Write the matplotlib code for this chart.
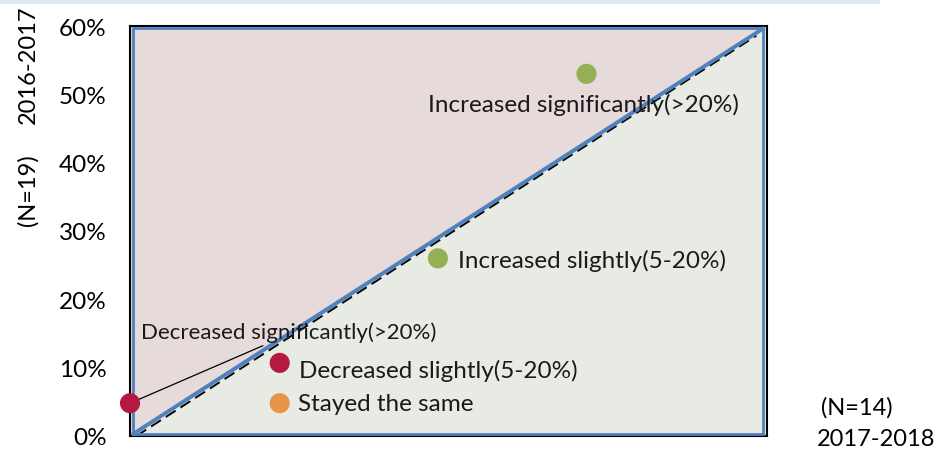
import numpy as np
import matplotlib
matplotlib.use("Agg")
import matplotlib.pyplot as plt
from matplotlib.patches import Rectangle, Polygon

plt.rcParams['font.family'] = ['Lato', 'DejaVu Sans']

# data (x = 2017-2018 share, y = 2016-2017 share, in %)
labels = ["Decreased significantly(>20%)", "Decreased slightly(5-20%)", "Stayed the same",
          "Increased slightly(5-20%)", "Increased significantly(>20%)"]
x_vals = [0.0, 14.1, 14.1, 29.0, 43.0]
y_vals = [4.8, 10.7, 4.8, 26.0, 53.0]
colors = ["#b5193f", "#b5193f", "#e8954a", "#93b154", "#93b154"]
yticks = [0, 10, 20, 30, 40, 50, 60]
ytick_labels = ["0%", "10%", "20%", "30%", "40%", "50%", "60%"]

W, H = 937, 452
fig = plt.figure(figsize=(W / 100, H / 100), dpi=100)
fig.patches.append(Rectangle((0, 1 - 5 / H), 880 / W, 5 / H, transform=fig.transFigure,
                             facecolor="#dde6f1", edgecolor="none"))

ax = fig.add_axes([130 / W, 1 - 437 / H, 637 / W, 410 / H])
ax.set_xlim(0, 60)
ax.set_ylim(0, 60)

# shaded triangles
ax.add_patch(Polygon([(0, 0), (0, 60), (60, 60)], closed=True, facecolor="#e6dadb", edgecolor="none", zorder=0))
ax.add_patch(Polygon([(0, 0), (60, 0), (60, 60)], closed=True, facecolor="#e8ebe3", edgecolor="none", zorder=0))

# diagonal lines
ax.plot([0.6, 59.0], [0.0, 58.6], color="black", lw=1.4, ls=(0, (6, 3)), zorder=2)
ax.plot([0.3, 59.6], [0.3, 59.6], color="#4f81bd", lw=2.8, zorder=3)

# inner blue frame
ax.add_patch(Rectangle((0.005, 0.006), 0.988, 0.988, transform=ax.transAxes, fill=False,
                       edgecolor="#4f81bd", lw=2, zorder=3))

for s in ax.spines.values():
    s.set_color("black")
    s.set_linewidth(1.5)

ax.set_yticks(yticks)
ax.set_yticklabels(ytick_labels, fontsize=17.5)
ax.set_xticks([])
ax.tick_params(axis="y", length=0, pad=17)

# leader line for first label
ax.plot([x_vals[0], 12.5], [y_vals[0], 13.2], color="black", lw=0.9, zorder=4)

ax.scatter(x_vals, y_vals, s=210, c=colors, edgecolors="none", zorder=5, clip_on=False)

txt_pos = [(1.0, 15.2), (15.9, 9.6), (15.8, 4.8), (30.9, 25.7), (28.1, 48.6)]
txt_size = [16, 17.5, 17.5, 17.5, 17.5]
for lab, (tx, ty), fs in zip(labels, txt_pos, txt_size):
    ax.text(tx, ty, lab, fontsize=fs, color="#1a1a1a", va="center", ha="left", zorder=6)

fig.text(28 / W, 1 - 65 / H, "2016-2017", rotation=90, fontsize=17, ha="center", va="center")
fig.text(28 / W, 1 - 190 / H, "(N=19)", rotation=90, fontsize=17, ha="center", va="center")
fig.text(857 / W, 1 - 408 / H, "(N=14)", fontsize=17, ha="center", va="center")
fig.text(876 / W, 1 - 440 / H, "2017-2018", fontsize=17, ha="center", va="center")

fig.savefig("out.png", dpi=100)
